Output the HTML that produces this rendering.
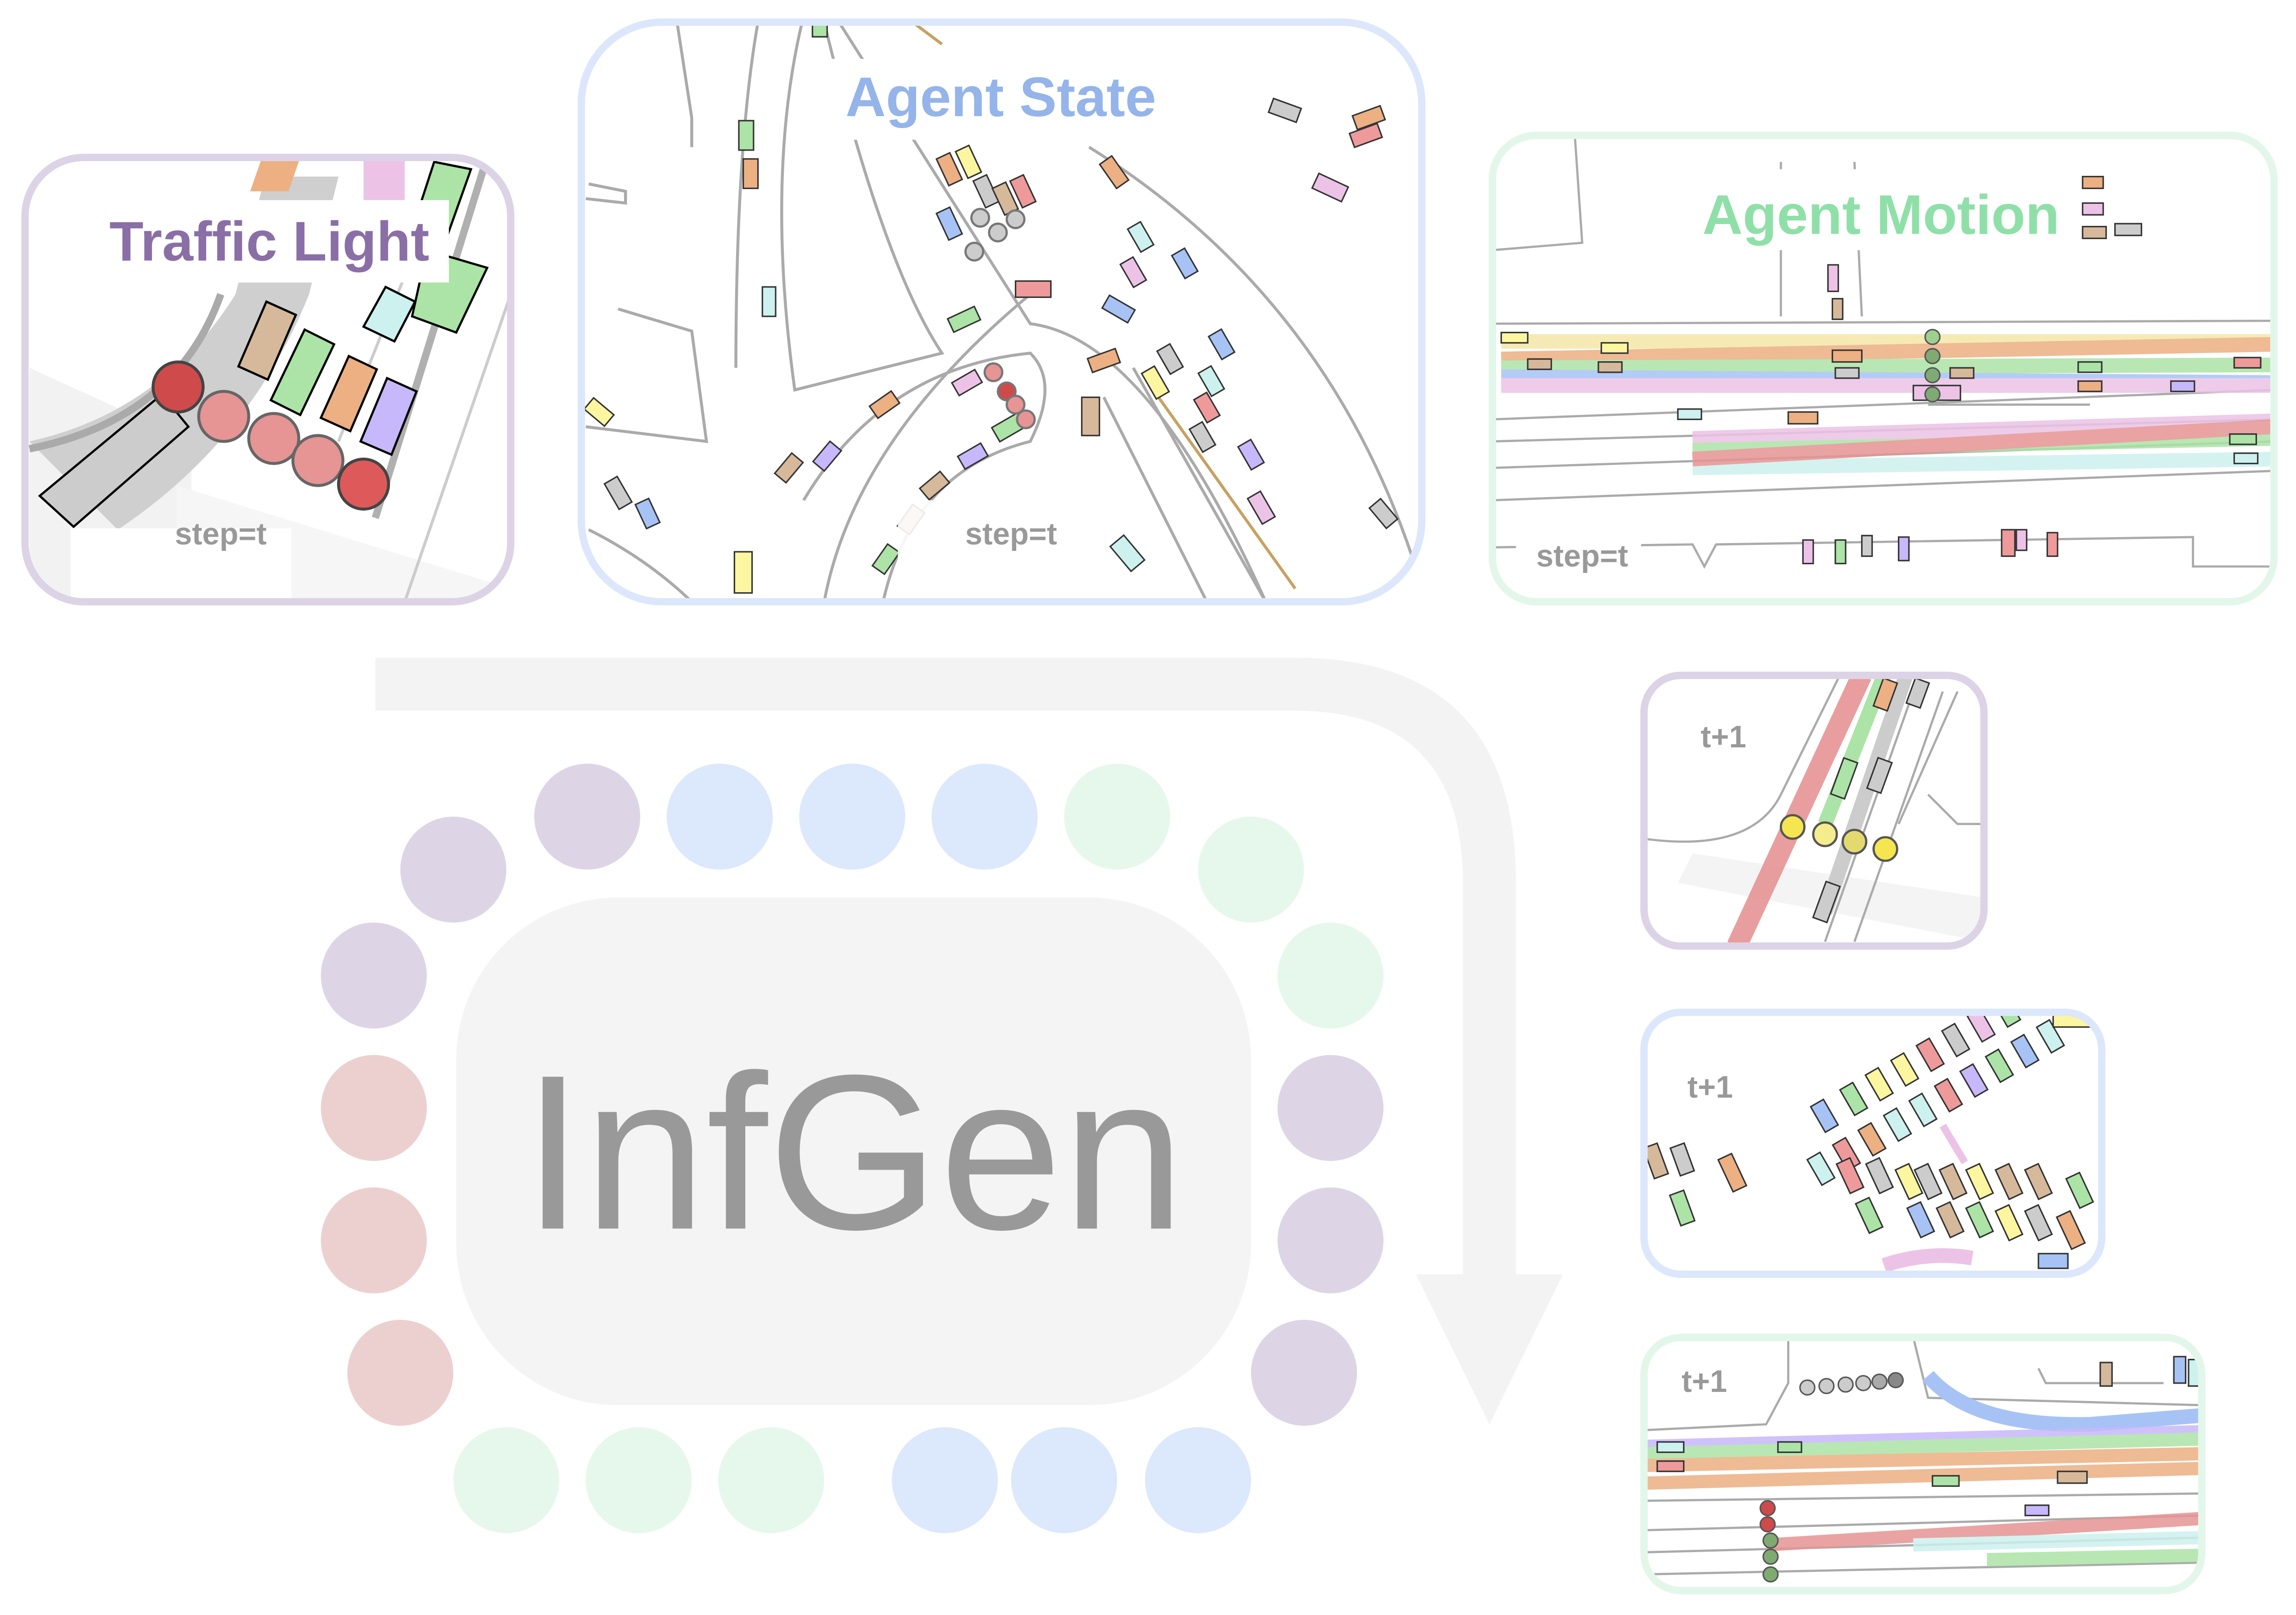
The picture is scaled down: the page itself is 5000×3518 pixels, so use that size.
<!DOCTYPE html>
<html><head><meta charset="utf-8"><style>
html,body{margin:0;padding:0;background:#fff;}
svg{display:block;}
text{font-family:"Liberation Sans",sans-serif;}
</style></head><body>
<svg width="5000" height="3518" viewBox="0 0 1560 1097.6" xmlns="http://www.w3.org/2000/svg">
<defs>
<clipPath id="c1"><rect x="17" y="107" width="330" height="302" rx="40"/></clipPath>
<clipPath id="c2"><rect x="395" y="15" width="571" height="394" rx="55"/></clipPath>
<clipPath id="c3"><rect x="1014" y="92" width="531" height="317" rx="30"/></clipPath>
<clipPath id="c4"><rect x="1117" y="459" width="231" height="184" rx="25"/></clipPath>
<clipPath id="c5"><rect x="1117" y="688" width="311" height="178" rx="25"/></clipPath>
<clipPath id="c6"><rect x="1117" y="909" width="379" height="172" rx="25"/></clipPath>
</defs>

<path d="M255 447 H880 Q1030 447 1030 600 V866 H1062 L1012 968 L962 866 H994 V600 Q994 483 880 483 H255 Z" fill="#f3f3f3"/>

<rect x="310" y="610" width="540" height="345" rx="110" fill="#f4f4f4"/>
<text x="580" y="835" font-size="150" fill="#999" text-anchor="middle">InfGen</text>

<g>
<circle cx="399" cy="555" r="36" fill="#ddd5e6"/>
<circle cx="489" cy="555" r="36" fill="#dce8fb"/>
<circle cx="579" cy="555" r="36" fill="#dce8fb"/>
<circle cx="669" cy="555" r="36" fill="#dce8fb"/>
<circle cx="759" cy="555" r="36" fill="#e6f8ec"/>
<circle cx="850" cy="591" r="36" fill="#e6f8ec"/>
<circle cx="308" cy="591" r="36" fill="#ddd5e6"/>
<circle cx="254" cy="663" r="36" fill="#ddd5e6"/>
<circle cx="254" cy="753" r="36" fill="#ecd0cf"/>
<circle cx="254" cy="843" r="36" fill="#ecd0cf"/>
<circle cx="272" cy="933" r="36" fill="#ecd0cf"/>
<circle cx="904" cy="663" r="36" fill="#e6f8ec"/>
<circle cx="904" cy="753" r="36" fill="#ddd5e6"/>
<circle cx="904" cy="843" r="36" fill="#ddd5e6"/>
<circle cx="886" cy="933" r="36" fill="#ddd5e6"/>
<circle cx="344" cy="1006" r="36" fill="#e6f8ec"/>
<circle cx="434" cy="1006" r="36" fill="#e6f8ec"/>
<circle cx="524" cy="1006" r="36" fill="#e6f8ec"/>
<circle cx="642" cy="1006" r="36" fill="#dce8fb"/>
<circle cx="723" cy="1006" r="36" fill="#dce8fb"/>
<circle cx="814" cy="1006" r="36" fill="#dce8fb"/>
</g>

<!-- Traffic light panel -->
<g clip-path="url(#c1)">
<rect x="17" y="107" width="330" height="302" fill="#fff"/>
<polygon points="20,250 130,300 130,409 20,409" fill="#f2f2f2"/>
<polygon points="120,330 347,400 347,409 120,409" fill="#f6f6f6"/>
<path d="M20 300 Q110 280 160 200 L180 120 L230 120 L210 200 Q170 300 80 360 Z" fill="#cfcfcf"/>
<path d="M20 305 Q120 285 150 200" stroke="#aaa" stroke-width="5" fill="none"/>
<line x1="330" y1="110" x2="255" y2="352" stroke="#b0b0b0" stroke-width="5"/>
<line x1="347" y1="200" x2="275" y2="409" stroke="#ccc" stroke-width="2"/>
<line x1="290" y1="150" x2="230" y2="300" stroke="#ccc" stroke-width="2"/>
<polygon points="178,107 204,107 196,130 170,130" fill="#ecb083"/>
<rect x="247" y="108" width="28" height="28" fill="#ecc3e6"/>
<polygon points="295,110 320,115 304,160 282,150" fill="#ace3a6" stroke="#000" stroke-width="1.5"/>
<polygon points="290,170 331,182 310,226 280,215" fill="#ace3a6" stroke="#000" stroke-width="1.5"/>
<polygon points="262,195 282,205 268,232 247,222" fill="#cdf1ee" stroke="#000" stroke-width="1.5"/>
<polygon points="181,205 201,214 182,258 162,249" fill="#d6b99b" stroke="#000" stroke-width="1.5"/>
<polygon points="207,224 227,234 204,282 184,272" fill="#ace3a6" stroke="#000" stroke-width="1.5"/>
<polygon points="237,242 256,251 238,293 218,284" fill="#ecb083" stroke="#000" stroke-width="1.5"/>
<polygon points="263,257 283,266 266,309 245,300" fill="#c7b8fb" stroke="#000" stroke-width="1.5"/>
<polygon points="27,337 110,268 128,290 50,358" fill="#ccc" stroke="#000" stroke-width="1.5"/>
<circle cx="121" cy="263" r="17" fill="#cf4a4a" stroke="#444" stroke-width="2"/>
<circle cx="152" cy="283" r="17" fill="#e69494" stroke="#666" stroke-width="2"/>
<circle cx="186" cy="298" r="17" fill="#e69494" stroke="#666" stroke-width="2"/>
<circle cx="216" cy="313" r="17" fill="#e69494" stroke="#666" stroke-width="2"/>
<circle cx="247" cy="329" r="17" fill="#de5a5a" stroke="#444" stroke-width="2"/>
<rect x="65" y="136" width="240" height="56" fill="#fff"/>
<rect x="48" y="359" width="150" height="50" fill="#fff" opacity="0.95"/>
</g>
<rect x="17" y="107" width="330" height="302" rx="40" fill="none" stroke="#dcd3e6" stroke-width="5"/>
<text x="183" y="177" font-size="38" font-weight="bold" fill="#8a6fa6" text-anchor="middle">Traffic Light</text>
<text x="150" y="370" font-size="21" font-weight="bold" fill="#999" text-anchor="middle">step=t</text>

<!-- Agent State panel -->
<g clip-path="url(#c2)">
<rect x="395" y="15" width="571" height="394" fill="#fff"/>
<g stroke="#aaa" stroke-width="2" fill="none">
<path d="M515 15 Q500 100 500 250"/>
<path d="M400 125 L425 130 L425 138 L398 135"/>
<path d="M545 15 Q520 120 540 265 L640 240 Q600 180 560 15"/>
<path d="M420 210 L470 225 L480 300 L398 290"/>
<path d="M570 15 L700 220 Q780 230 860 409"/>
<path d="M740 100 Q900 200 960 380"/>
<path d="M546 340 Q600 250 700 240 Q720 260 700 300 Q620 320 600 409"/>
<path d="M560 409 Q580 300 700 200"/>
<path d="M750 270 L820 409"/>
<path d="M770 250 L860 409"/>
<path d="M460 15 L470 80 L470 100"/>
<path d="M400 360 Q440 380 470 409"/>
</g>
<g stroke="#c9a060" stroke-width="2"><line x1="780" y1="260" x2="880" y2="400"/><line x1="620" y1="15" x2="640" y2="30"/></g>
<g stroke="#333" stroke-width="1">
<rect x="502" y="82" width="10" height="20" fill="#ace3a6"/>
<rect x="505" y="108" width="10" height="20" fill="#ecb083"/>
<rect x="518" y="195" width="9" height="20" fill="#cdf1ee"/>
<rect x="863" y="70" width="20" height="10" fill="#ccc" transform="rotate(20 873 75)"/>
<rect x="920" y="75" width="20" height="10" fill="#ecb083" transform="rotate(-20 930 80)"/>
<rect x="918" y="87" width="20" height="10" fill="#ef9a9a" transform="rotate(-20 928 92)"/>
<rect x="893" y="122" width="22" height="11" fill="#ecc3e6" transform="rotate(25 904 127)"/>
<rect x="640" y="105" width="10" height="20" fill="#ecb083" transform="rotate(-25 645 115)"/>
<rect x="653" y="100" width="10" height="20" fill="#fdf6a0" transform="rotate(-25 658 110)"/>
<rect x="665" y="120" width="10" height="20" fill="#ccc" transform="rotate(-25 670 130)"/>
<rect x="678" y="125" width="10" height="20" fill="#d6b99b" transform="rotate(-25 683 135)"/>
<rect x="690" y="120" width="10" height="20" fill="#ef9a9a" transform="rotate(-25 695 130)"/>
<rect x="640" y="142" width="10" height="20" fill="#a7c3f5" transform="rotate(-25 645 152)"/>
<rect x="752" y="107" width="10" height="20" fill="#ecb083" transform="rotate(-35 757 117)"/>
<rect x="770" y="152" width="10" height="18" fill="#cdf1ee" transform="rotate(-30 775 161)"/>
<rect x="765" y="176" width="10" height="18" fill="#ecc3e6" transform="rotate(-30 770 185)"/>
<rect x="800" y="170" width="10" height="18" fill="#a7c3f5" transform="rotate(-30 805 179)"/>
<rect x="690" y="191" width="24" height="11" fill="#ef9a9a"/>
<rect x="750" y="205" width="20" height="10" fill="#a7c3f5" transform="rotate(30 760 210)"/>
<rect x="645" y="212" width="20" height="10" fill="#ace3a6" transform="rotate(-25 655 217)"/>
<rect x="740" y="240" width="20" height="10" fill="#ecb083" transform="rotate(-20 750 245)"/>
<rect x="790" y="235" width="10" height="18" fill="#ccc" transform="rotate(-30 795 244)"/>
<rect x="780" y="250" width="10" height="20" fill="#fdf6a0" transform="rotate(-30 785 260)"/>
<rect x="825" y="225" width="10" height="18" fill="#a7c3f5" transform="rotate(-30 830 234)"/>
<rect x="818" y="250" width="10" height="18" fill="#cdf1ee" transform="rotate(-30 823 259)"/>
<rect x="815" y="268" width="10" height="18" fill="#ef9a9a" transform="rotate(-30 820 277)"/>
<rect x="735" y="270" width="12" height="26" fill="#d6b99b"/>
<rect x="812" y="288" width="10" height="18" fill="#ccc" transform="rotate(-30 817 297)"/>
<rect x="845" y="300" width="10" height="18" fill="#c7b8fb" transform="rotate(-30 850 309)"/>
<rect x="852" y="335" width="10" height="20" fill="#ecc3e6" transform="rotate(-30 857 345)"/>
<rect x="935" y="340" width="10" height="18" fill="#ccc" transform="rotate(-40 940 349)"/>
<rect x="648" y="255" width="18" height="10" fill="#ecc3e6" transform="rotate(-30 657 260)"/>
<rect x="675" y="285" width="20" height="11" fill="#ace3a6" transform="rotate(-30 685 290)"/>
<rect x="592" y="270" width="18" height="10" fill="#ecb083" transform="rotate(-35 601 275)"/>
<rect x="553" y="305" width="18" height="10" fill="#c7b8fb" transform="rotate(-50 562 310)"/>
<rect x="527" y="313" width="18" height="10" fill="#d6b99b" transform="rotate(-50 536 318)"/>
<rect x="652" y="305" width="18" height="10" fill="#c7b8fb" transform="rotate(-30 661 310)"/>
<rect x="626" y="325" width="18" height="10" fill="#d6b99b" transform="rotate(-40 635 330)"/>
<rect x="610" y="348" width="18" height="10" fill="#d6b99b" transform="rotate(-55 619 353)"/>
<rect x="593" y="375" width="18" height="10" fill="#ace3a6" transform="rotate(-55 602 380)"/>
<rect x="398" y="275" width="18" height="10" fill="#fdf6a0" transform="rotate(40 407 280)"/>
<rect x="415" y="325" width="10" height="20" fill="#ccc" transform="rotate(-30 420 335)"/>
<rect x="435" y="340" width="10" height="18" fill="#a7c3f5" transform="rotate(-25 440 349)"/>
<rect x="499" y="375" width="12" height="28" fill="#fdf6a0"/>
<rect x="760" y="365" width="12" height="22" fill="#cdf1ee" transform="rotate(-40 766 376)"/>
<rect x="552" y="15" width="10" height="10" fill="#ace3a6"/>
</g>
<g stroke="#777" stroke-width="1.5">
<circle cx="662" cy="171" r="6" fill="#ccc"/><circle cx="678" cy="158" r="6" fill="#ccc"/><circle cx="690" cy="149" r="6" fill="#ccc"/><circle cx="666" cy="148" r="6" fill="#ccc"/>
<circle cx="675" cy="253" r="6" fill="#e69494"/><circle cx="684" cy="266" r="6" fill="#cf4a4a"/><circle cx="690" cy="275" r="6" fill="#e69494"/><circle cx="697" cy="285" r="6" fill="#e69494"/>
</g>
<rect x="560" y="40" width="240" height="55" fill="#fff"/>
<rect x="610" y="340" width="140" height="69" fill="#fff" opacity="0.9"/>
</g>
<rect x="395" y="15" width="571" height="394" rx="55" fill="none" stroke="#dce7fb" stroke-width="5"/>
<text x="680" y="79" font-size="38" font-weight="bold" fill="#94b4ea" text-anchor="middle">Agent State</text>
<text x="687" y="370" font-size="21" font-weight="bold" fill="#999" text-anchor="middle">step=t</text>

<!-- Agent Motion panel -->
<g clip-path="url(#c3)">
<rect x="1014" y="92" width="531" height="317" fill="#fff"/>
<g stroke="#aaa" stroke-width="1.5" fill="none">
<path d="M1014 220 L1545 218"/>
<path d="M1014 285 L1545 265"/>
<path d="M1014 300 L1545 285"/>
<path d="M1014 318 L1545 300"/>
<path d="M1014 340 L1545 320"/>
<path d="M1070 92 L1075 165 L1014 170"/>
<path d="M1210 110 L1210 215"/>
<path d="M1260 110 L1265 215"/>
<path d="M1014 372 L1150 370 L1158 385 L1166 370 L1490 365 L1490 385 L1545 385"/>
<path d="M1310 275 L1420 275"/>
</g>
<g stroke-width="10" opacity="0.85">
<line x1="1020" y1="232" x2="1545" y2="232" stroke="#f5e7a8"/>
<line x1="1020" y1="244" x2="1545" y2="234" stroke="#ecb083"/>
<line x1="1020" y1="250" x2="1545" y2="248" stroke="#ace3a6"/>
<line x1="1020" y1="256" x2="1545" y2="260" stroke="#a7c3f5"/>
<line x1="1020" y1="262" x2="1545" y2="262" stroke="#ecc3e6"/>
<line x1="1150" y1="298" x2="1545" y2="286" stroke="#ecc3e6"/>
<line x1="1150" y1="306" x2="1545" y2="298" stroke="#ace3a6"/>
<line x1="1150" y1="318" x2="1545" y2="312" stroke="#cdf1ee"/>
<line x1="1150" y1="312" x2="1545" y2="290" stroke="#e69494"/>
</g>
<g stroke="#333" stroke-width="1">
<rect x="1020" y="226" width="18" height="7" fill="#fdf6a0"/>
<rect x="1038" y="244" width="16" height="7" fill="#d6b99b"/>
<rect x="1088" y="233" width="18" height="7" fill="#fdf6a0"/>
<rect x="1086" y="246" width="16" height="7" fill="#d6b99b"/>
<rect x="1245" y="238" width="20" height="8" fill="#ecb083"/>
<rect x="1247" y="250" width="16" height="7" fill="#ccc"/>
<rect x="1300" y="262" width="32" height="10" fill="#ecc3e6"/>
<rect x="1325" y="250" width="16" height="7" fill="#d6b99b"/>
<rect x="1412" y="246" width="16" height="7" fill="#ace3a6"/>
<rect x="1412" y="259" width="16" height="7" fill="#ecb083"/>
<rect x="1475" y="259" width="16" height="7" fill="#c7b8fb"/>
<rect x="1518" y="243" width="18" height="7" fill="#ef9a9a"/>
<rect x="1515" y="295" width="18" height="7" fill="#ace3a6"/>
<rect x="1518" y="308" width="16" height="7" fill="#cdf1ee"/>
<rect x="1140" y="278" width="16" height="7" fill="#cdf1ee"/>
<rect x="1215" y="280" width="20" height="8" fill="#ecb083"/>
<rect x="1242" y="180" width="7" height="18" fill="#ecc3e6"/>
<rect x="1245" y="203" width="7" height="14" fill="#d6b99b"/>
<rect x="1415" y="120" width="14" height="8" fill="#ecb083"/>
<rect x="1415" y="138" width="14" height="8" fill="#ecc3e6"/>
<rect x="1415" y="154" width="16" height="8" fill="#d6b99b"/>
<rect x="1437" y="152" width="18" height="8" fill="#ccc"/>
<rect x="1225" y="367" width="7" height="16" fill="#ecc3e6"/>
<rect x="1247" y="367" width="7" height="16" fill="#ace3a6"/>
<rect x="1265" y="364" width="7" height="14" fill="#ccc"/>
<rect x="1290" y="365" width="7" height="16" fill="#c7b8fb"/>
<rect x="1360" y="360" width="9" height="18" fill="#ef9a9a"/>
<rect x="1370" y="360" width="7" height="14" fill="#ecc3e6"/>
<rect x="1391" y="362" width="7" height="16" fill="#ef9a9a"/>
</g>
<g stroke="#555" stroke-width="1"><circle cx="1313" cy="229" r="5" fill="#9fcf8f"/><circle cx="1313" cy="242" r="5" fill="#7faa72"/><circle cx="1313" cy="255" r="5" fill="#7faa72"/><circle cx="1313" cy="268" r="5" fill="#7faa72"/></g>
<rect x="1140" y="115" width="270" height="55" fill="#fff"/>
</g>
<rect x="1014" y="92" width="531" height="317" rx="30" fill="none" stroke="#e3f6ea" stroke-width="5"/>
<text x="1278" y="159" font-size="38" font-weight="bold" fill="#8fe0a8" text-anchor="middle">Agent Motion</text>
<rect x="1030" y="362" width="85" height="30" fill="#fff"/>
<text x="1075" y="385" font-size="21" font-weight="bold" fill="#999" text-anchor="middle">step=t</text>

<!-- t+1 purple -->
<g clip-path="url(#c4)">
<rect x="1117" y="459" width="231" height="184" fill="#fff"/>
<polygon points="1150,580 1348,610 1348,640 1140,600" fill="#f4f4f4"/>
<g stroke="#aaa" stroke-width="1.5" fill="none">
<path d="M1117 570 Q1190 580 1210 540 L1250 459"/>
<path d="M1300 470 L1240 640"/><path d="M1320 470 L1260 640"/>
<path d="M1310 540 L1330 560 L1348 560"/>
<path d="M1330 470 L1290 560"/>
</g>
<line x1="1265" y1="459" x2="1180" y2="643" stroke="#e69494" stroke-width="14" opacity="0.9"/>
<line x1="1280" y1="459" x2="1240" y2="560" stroke="#ace3a6" stroke-width="10"/>
<line x1="1295" y1="459" x2="1240" y2="620" stroke="#ccc" stroke-width="10"/>
<g stroke="#333" stroke-width="1">
<rect x="1276" y="462" width="10" height="20" fill="#ecb083" transform="rotate(20 1281 472)"/>
<rect x="1298" y="462" width="10" height="18" fill="#ccc" transform="rotate(20 1303 471)"/>
<rect x="1248" y="516" width="10" height="26" fill="#ace3a6" transform="rotate(20 1253 529)"/>
<rect x="1272" y="516" width="10" height="22" fill="#ccc" transform="rotate(20 1277 527)"/>
<rect x="1236" y="600" width="10" height="26" fill="#ccc" transform="rotate(20 1241 613)"/>
</g>
<g stroke="#555" stroke-width="1.5"><circle cx="1218" cy="562" r="8" fill="#f5e650"/><circle cx="1240" cy="567" r="8" fill="#f5ec8e"/><circle cx="1260" cy="572" r="8" fill="#e3d96f"/><circle cx="1281" cy="577" r="8" fill="#f5e650"/></g>
</g>
<rect x="1117" y="459" width="231" height="184" rx="25" fill="none" stroke="#dcd3e6" stroke-width="5"/>
<text x="1171" y="508" font-size="21" font-weight="bold" fill="#999" text-anchor="middle">t+1</text>

<!-- t+1 blue -->
<g clip-path="url(#c5)">
<rect x="1117" y="688" width="311" height="178" fill="#fff"/>
<path d="M1280 860 Q1310 850 1340 855" stroke="#ecc3e6" stroke-width="10" fill="none"/>
<path d="M1320 765 L1335 790" stroke="#ecc3e6" stroke-width="5"/>
<g stroke="#333" stroke-width="1">
<g transform="rotate(-30 1330 735)">
<rect x="1235" y="700" width="10" height="20" fill="#a7c3f5"/><rect x="1258" y="700" width="10" height="20" fill="#ace3a6"/><rect x="1278" y="700" width="10" height="20" fill="#fdf6a0"/><rect x="1298" y="700" width="10" height="20" fill="#fdf6a0"/><rect x="1318" y="700" width="10" height="20" fill="#ef9a9a"/><rect x="1338" y="700" width="10" height="20" fill="#ccc"/><rect x="1358" y="700" width="10" height="20" fill="#ecc3e6"/><rect x="1378" y="700" width="10" height="20" fill="#ace3a6"/><rect x="1398" y="700" width="10" height="22" fill="#ef9a9a"/><rect x="1418" y="700" width="10" height="20" fill="#a7c3f5"/>
<rect x="1215" y="730" width="10" height="20" fill="#cdf1ee"/><rect x="1235" y="730" width="10" height="20" fill="#ef9a9a"/><rect x="1255" y="730" width="10" height="20" fill="#ecb083"/><rect x="1275" y="730" width="10" height="20" fill="#cdf1ee"/><rect x="1295" y="730" width="10" height="20" fill="#cdf1ee"/><rect x="1315" y="730" width="10" height="20" fill="#ef9a9a"/><rect x="1335" y="730" width="10" height="20" fill="#c7b8fb"/><rect x="1355" y="730" width="10" height="20" fill="#ace3a6"/><rect x="1375" y="730" width="10" height="20" fill="#a7c3f5"/><rect x="1395" y="730" width="10" height="20" fill="#cdf1ee"/>
</g>
<rect x="1120" y="778" width="10" height="22" fill="#d6b99b" transform="rotate(-20 1125 789)"/>
<rect x="1138" y="778" width="10" height="20" fill="#ccc" transform="rotate(-20 1143 788)"/>
<rect x="1172" y="785" width="10" height="24" fill="#ecb083" transform="rotate(-25 1177 797)"/>
<rect x="1138" y="810" width="10" height="22" fill="#ace3a6" transform="rotate(-20 1143 821)"/>
<rect x="1252" y="788" width="10" height="22" fill="#ef9a9a" transform="rotate(-25 1257 799)"/>
<rect x="1272" y="788" width="10" height="22" fill="#ccc" transform="rotate(-25 1277 799)"/>
<rect x="1265" y="815" width="10" height="22" fill="#ace3a6" transform="rotate(-25 1270 826)"/>
<rect x="1292" y="792" width="10" height="22" fill="#fdf6a0" transform="rotate(-25 1297 803)"/>
<rect x="1305" y="792" width="10" height="22" fill="#ccc" transform="rotate(-25 1310 803)"/>
<rect x="1322" y="792" width="10" height="22" fill="#d6b99b" transform="rotate(-25 1327 803)"/>
<rect x="1340" y="792" width="10" height="22" fill="#fdf6a0" transform="rotate(-25 1345 803)"/>
<rect x="1360" y="792" width="10" height="22" fill="#d6b99b" transform="rotate(-25 1365 803)"/>
<rect x="1380" y="792" width="10" height="22" fill="#d6b99b" transform="rotate(-25 1385 803)"/>
<rect x="1408" y="798" width="10" height="22" fill="#ace3a6" transform="rotate(-25 1413 809)"/>
<rect x="1300" y="818" width="10" height="22" fill="#a7c3f5" transform="rotate(-25 1305 829)"/>
<rect x="1320" y="818" width="10" height="22" fill="#d6b99b" transform="rotate(-25 1325 829)"/>
<rect x="1340" y="818" width="10" height="22" fill="#ace3a6" transform="rotate(-25 1345 829)"/>
<rect x="1360" y="820" width="10" height="22" fill="#fdf6a0" transform="rotate(-25 1365 831)"/>
<rect x="1380" y="820" width="10" height="22" fill="#ccc" transform="rotate(-25 1385 831)"/>
<rect x="1402" y="824" width="10" height="24" fill="#ecb083" transform="rotate(-25 1407 836)"/>
<rect x="1385" y="852" width="20" height="10" fill="#a7c3f5"/>
<rect x="1395" y="688" width="25" height="10" fill="#fdf6a0"/>
</g>
</g>
<rect x="1117" y="688" width="311" height="178" rx="25" fill="none" stroke="#dce7fb" stroke-width="5"/>
<text x="1162" y="746" font-size="21" font-weight="bold" fill="#999" text-anchor="middle">t+1</text>

<!-- t+1 green -->
<g clip-path="url(#c6)">
<rect x="1117" y="909" width="379" height="172" fill="#fff"/>
<g stroke="#aaa" stroke-width="1.5" fill="none">
<path d="M1117 972 L1200 968 L1215 940 L1215 909"/>
<path d="M1300 909 L1310 950 L1496 955"/>
<path d="M1117 1040 L1496 1030"/><path d="M1117 1055 L1496 1045"/><path d="M1117 1070 L1496 1062"/>
<path d="M1385 930 L1390 940 L1470 940"/>
<path d="M1117 1020 L1496 1015"/>
</g>
<path d="M1310 935 Q1340 970 1420 968 L1496 962" stroke="#a7c3f5" stroke-width="10" fill="none"/>
<g stroke-width="9" opacity="0.85">
<line x1="1117" y1="983" x2="1496" y2="973" stroke="#c7b8fb"/>
<line x1="1117" y1="988" x2="1496" y2="978" stroke="#ace3a6"/>
<line x1="1117" y1="996" x2="1496" y2="988" stroke="#ecb083"/>
<line x1="1117" y1="1008" x2="1496" y2="998" stroke="#ecb083"/>
<line x1="1200" y1="1050" x2="1496" y2="1032" stroke="#e69494"/>
<line x1="1300" y1="1050" x2="1496" y2="1045" stroke="#cdf1ee"/>
<line x1="1350" y1="1060" x2="1496" y2="1057" stroke="#ace3a6"/>
</g>
<g stroke="#333" stroke-width="1">
<rect x="1126" y="980" width="18" height="7" fill="#cdf1ee"/>
<rect x="1126" y="993" width="18" height="7" fill="#ef9a9a"/>
<rect x="1208" y="980" width="16" height="7" fill="#ace3a6"/>
<rect x="1313" y="1003" width="18" height="7" fill="#ace3a6"/>
<rect x="1398" y="1000" width="20" height="8" fill="#d6b99b"/>
<rect x="1376" y="1023" width="16" height="7" fill="#c7b8fb"/>
<rect x="1427" y="926" width="8" height="16" fill="#d6b99b"/>
<rect x="1477" y="922" width="8" height="18" fill="#a7c3f5"/>
<rect x="1487" y="924" width="8" height="18" fill="#cdf1ee"/>
</g>
<g stroke="#555" stroke-width="1"><circle cx="1228" cy="943" r="5" fill="#ccc"/><circle cx="1241" cy="942" r="5" fill="#ccc"/><circle cx="1254" cy="941" r="5" fill="#ccc"/><circle cx="1266" cy="940" r="5" fill="#ccc"/><circle cx="1277" cy="939" r="5" fill="#aaa"/><circle cx="1288" cy="938" r="5" fill="#888"/>
<circle cx="1201" cy="1025" r="5" fill="#cf4a4a"/><circle cx="1201" cy="1036" r="5" fill="#cf4a4a"/><circle cx="1203" cy="1047" r="5" fill="#7faa72"/><circle cx="1203" cy="1058" r="5" fill="#7faa72"/><circle cx="1203" cy="1070" r="5" fill="#7faa72"/></g>
</g>
<rect x="1117" y="909" width="379" height="172" rx="25" fill="none" stroke="#e3f6ea" stroke-width="5"/>
<text x="1158" y="946" font-size="21" font-weight="bold" fill="#999" text-anchor="middle">t+1</text>
</svg>
</body></html>
